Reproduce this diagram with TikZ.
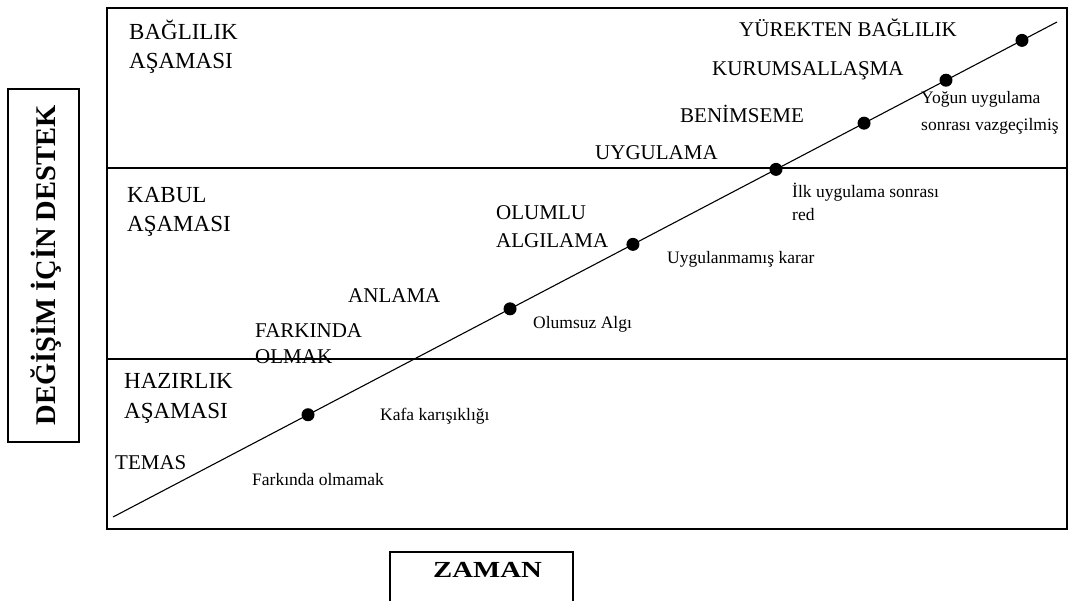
\documentclass[tikz,border=0pt]{standalone}
\usepackage{fontspec}
\setmainfont{Liberation Serif}
\usepackage{graphicx}
\begin{document}
\begin{tikzpicture}[x=1pt,y=-1pt,
  frame/.style={line width=1.3pt},
  stage/.style={anchor=base west,inner sep=0,align=left,font=\fontsize{23}{29}\selectfont},
  stepl/.style={anchor=base west,inner sep=0,align=left,font=\fontsize{21}{27}\selectfont},
  note/.style={anchor=base west,inner sep=0,align=left,font=\fontsize{17.5}{23}\selectfont},
  dot/.style={circle,fill=black,inner sep=0,minimum size=13pt},
  axisbox/.style={draw,line width=1.1pt,inner sep=0}]
\useasboundingbox (0,0) rectangle (1068,600);
% frame and stage separators
\draw[frame] (107,8) rectangle (1067,529);
\draw[frame] (107,168) -- (1067,168);
\draw[frame] (107,359) -- (1067,359);
% stage labels (anchored at the baseline of the last line)
\node[stage] (st1) at (129,68) {BAĞLILIK\\AŞAMASI};
\node[stage] (st2) at (127,231) {KABUL\\AŞAMASI};
\node[stage,font=\fontsize{23}{30}\selectfont] (st3) at (124,418) {HAZIRLIK\\AŞAMASI};
% trend line with dots
\coordinate (s) at (113,517);
\coordinate (e) at (1057,22);
\draw[line width=1.1pt] (s) -- (e)
  node[dot,pos=.2066] (d1) {}
  node[dot,pos=.4206] (d2) {}
  node[dot,pos=.5508] (d3) {}
  node[dot,pos=.7023] (d4) {}
  node[dot,pos=.7956] (d5) {}
  node[dot,pos=.8824] (d6) {}
  node[dot,pos=.9629] (d7) {};
% step labels
\node[stepl] (t1) at (115,469) {TEMAS};
\node[stepl,font=\fontsize{21}{26}\selectfont] (t2) at (255,363) {FARKINDA\\OLMAK};
\node[stepl] (t3) at (348,302) {ANLAMA};
\node[stepl,font=\fontsize{21}{28}\selectfont] (t4) at (496,247) {OLUMLU\\ALGILAMA};
\node[stepl] (t5) at (595,159) {UYGULAMA};
\node[stepl] (t6) at (680,122) {BENİMSEME};
\node[stepl] (t7) at (712,75) {KURUMSALLAŞMA};
\node[stepl] (t8) at (739,36) {YÜREKTEN BAĞLILIK};
% notes
\node[note] (n1) at (252,485) {Farkında olmamak};
\node[note] (n2) at (380,420) {Kafa karışıklığı};
\node[note] (n3) at (533,328) {Olumsuz Algı};
\node[note] (n4) at (667,263) {Uygulanmamış karar};
\node[note] (n5) at (792,220) {İlk uygulama sonrası\\red};
\node[note,font=\fontsize{17.5}{27}\selectfont] (n6) at (921,130) {Yoğun uygulama\\sonrası vazgeçilmiş};
% axis labels
\node[axisbox,rotate=90,anchor=base,minimum width=353pt,text height=47pt,text depth=24pt,
  font=\bfseries\fontsize{28.5}{30}\selectfont] (ylab) at (55,265.5) {DEĞİŞİM İÇİN DESTEK};
\node[axisbox,anchor=base,minimum width=183pt,text height=25pt,text depth=25pt,
  font=\bfseries\fontsize{23}{25}\selectfont] (xlab) at (481.5,577) {\hspace*{12pt}\scalebox{1.25}[1]{ZAMAN}};
\end{tikzpicture}
\end{document}
